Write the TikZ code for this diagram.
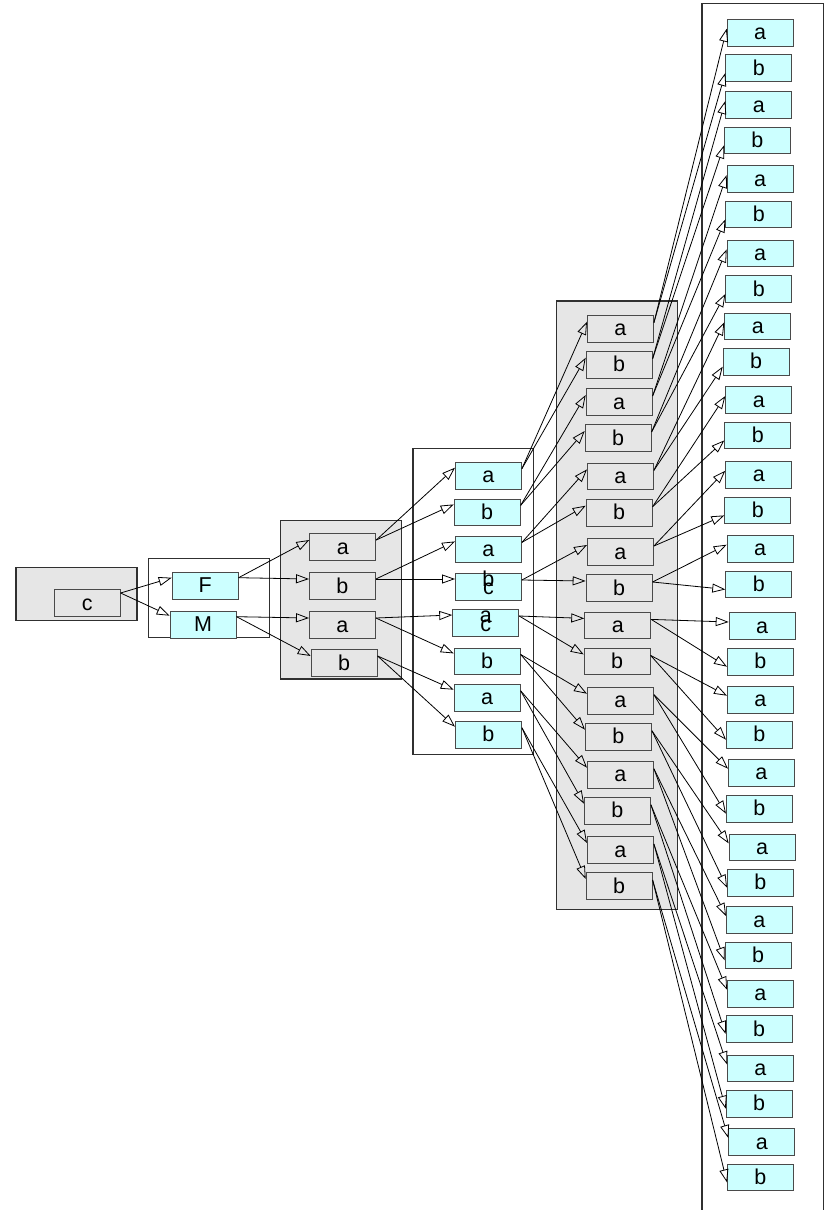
\documentclass[tikz,border=0pt]{standalone}
\usepackage{fontspec}
\setmainfont{Liberation Sans}
\usetikzlibrary{arrows.meta}
\definecolor{cyanfill}{HTML}{CCFFFF}
\definecolor{grayfill}{HTML}{E6E6E6}
\definecolor{nodeline}{HTML}{4A4A4A}
\definecolor{boxline}{HTML}{303030}
\begin{document}
\begin{tikzpicture}[x=1pt,y=-1pt,
  box/.style={draw=nodeline, line width=0.9pt, anchor=north west,
    minimum width=66pt, minimum height=26.5pt, inner sep=0pt,
    text height=20.5pt, text depth=6pt, font=\fontsize{21.5}{25}\selectfont},
  cbox/.style={box, fill=cyanfill},
  gbox/.style={box, fill=grayfill},
  overtext/.style={box, draw=none, fill=none},
  graygroup/.style={draw=boxline, line width=1.1pt, fill=grayfill},
  whitegroup/.style={draw=boxline, line width=1.1pt, fill=white},
  edge/.style={draw=black, line width=0.8pt, -{Triangle[open, length=13pt, width=9pt]}}
]
\useasboundingbox (0,0) rectangle (829,1210);
\fill[white] (0,0) rectangle (829,1210);

% group frames
\draw[graygroup]  (16,567.3) rectangle (137,620.7);
\draw[whitegroup] (148.3,558.3) rectangle (269.3,637.7);
\draw[graygroup]  (280.7,520.3) rectangle (401.3,679);
\draw[whitegroup] (413,448.7) rectangle (533.3,754.7);
\draw[graygroup]  (556.7,301) rectangle (677.3,909.3);
\draw[whitegroup] (702,3.3) rectangle (823.3,1215);

% column 0 and 1
\node[gbox] (c0) at (53.7,589.3) {c};
\node[cbox] (F) at (171.7,572) {F};
\node[cbox] (M) at (169.7,611) {M};

% column 2
\foreach \i/\x/\y/\t in {1/309.3/533.3/a, 2/309/572.3/b, 3/309/611.3/a, 4/310.7/649.3/b}
  \node[gbox] (n2-\i) at (\x,\y) {\t};

% column 3
\foreach \i/\x/\y/\t in {1/455/462/a, 2/453.7/498.7/b, 3/455/535.7/a,
    6/453.7/647.7/b, 7/453.7/684/a, 8/455/721/b}
  \node[cbox] (n3-\i) at (\x,\y) {\t};
\node[cbox] (n3-4) at (455,573.3) {\raisebox{8pt}{b}};
\node[overtext] (n3-4c) at (455,573.3) {c};
\node[cbox] (n3-5) at (452.3,609.3) {\raisebox{8pt}{a}};
\node[overtext] (n3-5c) at (452.3,610.5) {c};

% column 4
\foreach \i/\x/\y/\t in {1/587/315/a, 2/585.7/351/b, 3/585.7/388.3/a, 4/584.7/424.3/b,
    5/587/462.7/a, 6/585.7/499/b, 7/587/538.3/a, 8/585.7/574.3/b,
    9/584.3/611.7/a, 10/583.7/647.7/b, 11/587/687/a, 12/585/723/b,
    13/587/761/a, 14/584/797/b, 15/587/836.3/a, 16/585.7/872.3/b}
  \node[gbox] (n4-\i) at (\x,\y) {\t};

% column 5
\foreach \i/\x/\y/\t in {1/726.7/19/a, 2/725.3/54.3/b, 3/725.3/91.3/a, 4/724/126.7/b,
    5/726.7/165.3/a, 6/725.3/200.7/b, 7/726.7/239.7/a, 8/725.3/275.3/b,
    9/724.3/312.7/a, 10/722.7/348/b, 11/725.3/386.3/a, 12/724.3/421.7/b,
    13/725.3/461/a, 14/724.3/496.7/b, 15/726.7/535/a, 16/725.3/570.7/b,
    17/728.7/612.3/a, 18/727/648/b, 19/727/686/a, 20/726/721/b,
    21/728/759/a, 22/726/795/b, 23/728.7/833.7/a, 24/727/869/b,
    25/726/906.3/a, 26/724.7/941.7/b, 27/727/980/a, 28/725.7/1015.3/b,
    29/727/1054.7/a, 30/725.7/1090/b, 31/728.3/1128.3/a, 32/727/1163.7/b}
  \node[cbox] (n5-\i) at (\x,\y) {\t};

% edges
\draw[edge] ([yshift=10pt]c0.east) -- ([yshift=8pt]F.west);
\draw[edge] ([yshift=10pt]c0.east) -- ([yshift=9pt]M.west);
\draw[edge] ([yshift=8pt]F.east) -- ([yshift=7pt]n2-1.west);
\draw[edge] ([yshift=8pt]F.east) -- ([yshift=7pt]n2-2.west);
\draw[edge] ([yshift=8pt]M.east) -- ([yshift=7pt]n2-3.west);
\draw[edge] ([yshift=8pt]M.east) -- ([yshift=7pt]n2-4.west);
\foreach \k in {1,...,4} {
  \pgfmathtruncatemacro\ca{2*\k-1}
  \pgfmathtruncatemacro\cb{2*\k}
  \draw[edge] ([yshift=7pt]n2-\k.east) -- ([yshift=8pt]n3-\ca.west);
  \draw[edge] ([yshift=7pt]n2-\k.east) -- ([yshift=8pt]n3-\cb.west);
}
\foreach \k in {1,...,8} {
  \pgfmathtruncatemacro\ca{2*\k-1}
  \pgfmathtruncatemacro\cb{2*\k}
  \draw[edge] ([yshift=7pt]n3-\k.east) -- ([yshift=7pt]n4-\ca.west);
  \draw[edge] ([yshift=7pt]n3-\k.east) -- ([yshift=7pt]n4-\cb.west);
}
\foreach \k in {1,...,16} {
  \pgfmathtruncatemacro\ca{2*\k-1}
  \pgfmathtruncatemacro\cb{2*\k}
  \draw[edge] ([yshift=6pt]n4-\k.east) -- ([yshift=4pt]n5-\ca.west);
  \draw[edge] ([yshift=6pt]n4-\k.east) -- ([yshift=-5pt]n5-\cb.west);
}
\end{tikzpicture}
\end{document}
